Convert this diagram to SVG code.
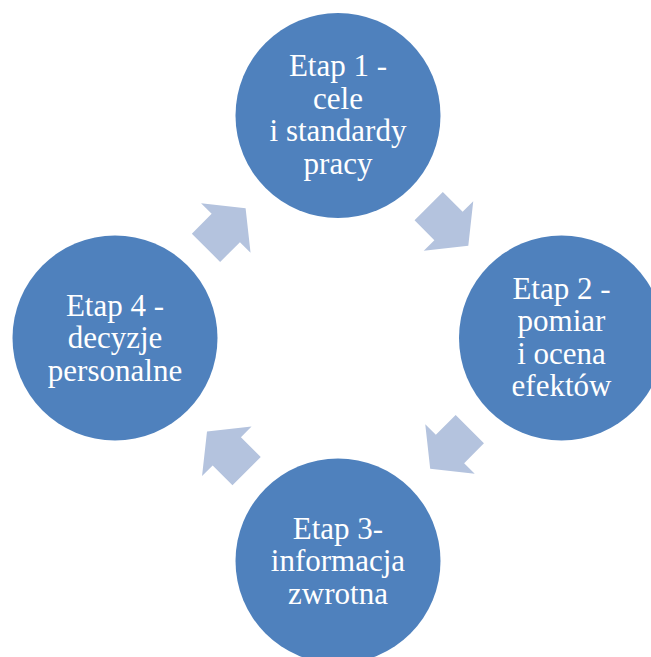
<svg xmlns="http://www.w3.org/2000/svg" width="651" height="657" viewBox="0 0 651 657">
<defs>
<style>
.node{fill:#4f81bd;}
.arrow{fill:#b4c3de;}
.lbl{fill:#ffffff;font-family:"Liberation Serif","Times New Roman",serif;font-size:31px;text-anchor:middle;}
</style>
<path id="blk" d="M-28,-20 L0,-20 L0,-35 L28,0 L0,35 L0,20 L-28,20 Z"/>
</defs>
<rect width="651" height="657" fill="#ffffff"/>
<g id="connectors">
<use href="#blk" class="arrow" transform="translate(225.8,228) rotate(-45)"/>
<use href="#blk" class="arrow" transform="translate(448.5,226) rotate(45)"/>
<use href="#blk" class="arrow" transform="translate(450,449) rotate(135)"/>
<use href="#blk" class="arrow" transform="translate(226.8,451.3) rotate(-135)"/>
</g>
<g id="node1">
<circle class="node" cx="338" cy="115.5" r="102.5"/>
<text class="lbl" x="338" y="76">Etap 1 -</text>
<text class="lbl" x="338" y="108.5">cele</text>
<text class="lbl" x="338" y="141">i standardy</text>
<text class="lbl" x="338" y="173.5">pracy</text>
</g>
<g id="node2">
<circle class="node" cx="561.5" cy="338" r="102.5"/>
<text class="lbl" x="561.5" y="298.5">Etap 2 -</text>
<text class="lbl" x="561.5" y="331">pomiar</text>
<text class="lbl" x="561.5" y="363.5">i ocena</text>
<text class="lbl" x="561.5" y="396">efektów</text>
</g>
<g id="node3">
<circle class="node" cx="338" cy="561" r="102.5"/>
<text class="lbl" x="338" y="538.5">Etap 3-</text>
<text class="lbl" x="338" y="571">informacja</text>
<text class="lbl" x="338" y="603.5">zwrotna</text>
</g>
<g id="node4">
<circle class="node" cx="115" cy="338" r="102.5"/>
<text class="lbl" x="115" y="315.5">Etap 4 -</text>
<text class="lbl" x="115" y="348">decyzje</text>
<text class="lbl" x="115" y="380.5">personalne</text>
</g>
</svg>
